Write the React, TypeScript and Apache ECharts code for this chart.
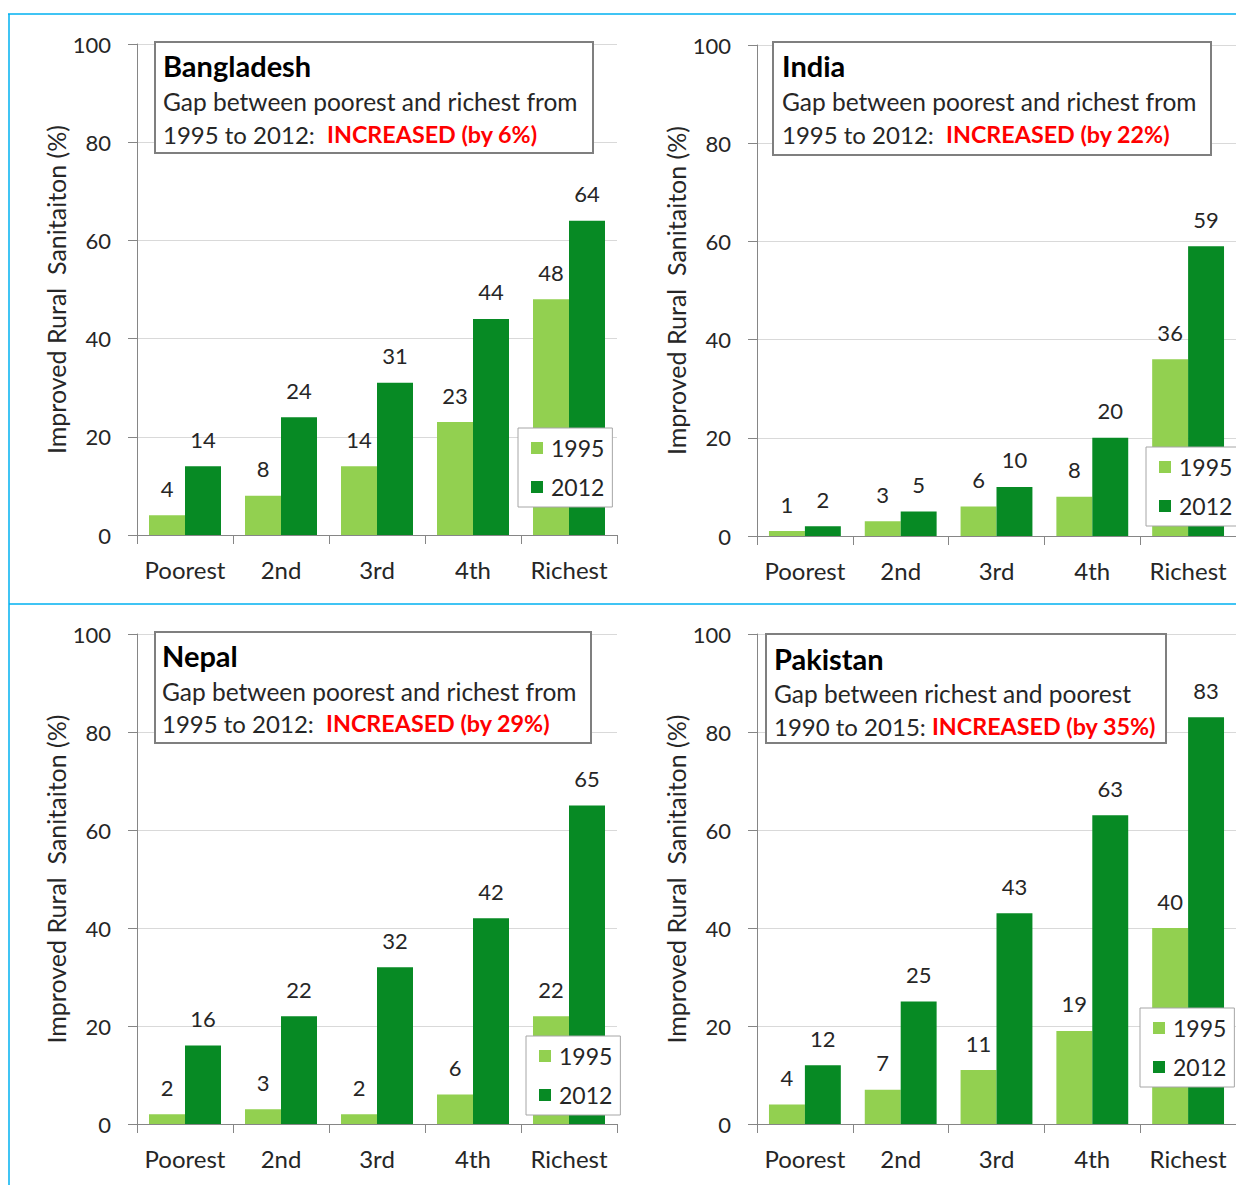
import React, { useEffect, useRef } from "react";
import * as echarts from "echarts";

// Wealth quintiles shared by every country panel
const quintiles = ["Poorest", "2nd", "3rd", "4th", "Richest"];
const yTicks = [0, 20, 40, 60, 80, 100];

const bangladesh1995 = [4, 8, 14, 23, 48];
const bangladesh2012 = [14, 24, 31, 44, 64];
const india1995 = [1, 3, 6, 8, 36];
const india2012 = [2, 5, 10, 20, 59];
const nepal1995 = [2, 3, 2, 6, 22];
const nepal2012 = [16, 22, 32, 42, 65];
const pakistan1995 = [4, 7, 11, 19, 40];
const pakistan2012 = [12, 25, 43, 63, 83];

const seriesNames = ["1995", "2012"];
const countryNames = ["Bangladesh", "India", "Nepal", "Pakistan"];
const gapLines = [
  "Gap between poorest and richest from",
  "Gap between poorest and richest from",
  "Gap between poorest and richest from",
  "Gap between richest and poorest",
];
const periodLines = ["1995 to 2012:  ", "1995 to 2012:  ", "1995 to 2012:  ", "1990 to 2015: "];
const changeLines = [
  "INCREASED (by 6%)",
  "INCREASED (by 22%)",
  "INCREASED (by 29%)",
  "INCREASED (by 35%)",
];
const yAxisTitle = "Improved Rural  Sanitaiton (%)";

const FONT = "Lato, 'Noto Sans', sans-serif";
const TEXT = "#262626";
const AXIS = "#868686";
const LIGHT = "#92d050";
const DARK = "#078a24";
const FRAME = "#00b0f0";

// panel layout: plot area and placement of the annotation / legend boxes
const panels = [
  { left: 137, top: 44, height: 491, box: [155, 42, 438, 111], textX: 163, lines: [65, 101, 134], legend: [518, 428] },
  { left: 757, top: 45, height: 491, box: [773, 42, 438, 113], textX: 782, lines: [65, 101, 134], legend: [1146, 447] },
  { left: 137, top: 634, height: 490, box: [155, 632, 436, 111], textX: 162, lines: [655, 691, 723], legend: [526, 1036] },
  { left: 757, top: 634, height: 490, box: [766, 634, 400, 109], textX: 774, lines: [658, 693, 726], legend: [1140, 1008] },
];

const data1995 = [bangladesh1995, india1995, nepal1995, pakistan1995];
const data2012 = [bangladesh2012, india2012, nepal2012, pakistan2012];

export default function App() {
  const ref = useRef<HTMLDivElement>(null);

  useEffect(() => {
    document.body.style.margin = "0";
    if (!ref.current) return;
    const chart = echarts.init(ref.current, null, { renderer: "svg" });

    const grid = panels.map((p) => ({ left: p.left, top: p.top, width: 480, height: p.height }));

    const xAxis = panels.map((_, i) => ({
      type: "category",
      gridIndex: i,
      data: quintiles,
      axisLine: { lineStyle: { color: AXIS, width: 1 } },
      axisTick: { show: true, length: 9, interval: 0, lineStyle: { color: AXIS } },
      axisLabel: { fontSize: 24, color: TEXT, fontFamily: FONT, margin: 22, interval: 0 },
    }));

    const yAxis = panels.map((_, i) => ({
      type: "value",
      gridIndex: i,
      min: yTicks[0],
      max: yTicks[yTicks.length - 1],
      interval: yTicks[1] - yTicks[0],
      name: yAxisTitle,
      nameLocation: "middle",
      nameRotate: 90,
      nameGap: 64,
      nameTextStyle: { fontSize: 25, color: TEXT, fontFamily: FONT },
      axisLine: { show: true, lineStyle: { color: AXIS, width: 1 } },
      axisTick: { show: true, length: 9, lineStyle: { color: AXIS } },
      axisLabel: { fontSize: 22, color: TEXT, fontFamily: FONT, margin: 26 },
      splitLine: { lineStyle: { color: "#d9d9d9", width: 1 } },
    }));

    const label = {
      show: true,
      position: "top",
      distance: 16,
      fontSize: 22,
      color: TEXT,
      fontFamily: FONT,
    };

    const series: any[] = [];
    panels.forEach((_, i) => {
      series.push({
        type: "bar",
        name: seriesNames[0],
        xAxisIndex: i,
        yAxisIndex: i,
        data: data1995[i],
        itemStyle: { color: LIGHT },
        barGap: "0%",
        barCategoryGap: "25%",
        label,
      });
      series.push({
        type: "bar",
        name: seriesNames[1],
        xAxisIndex: i,
        yAxisIndex: i,
        data: data2012[i],
        itemStyle: { color: DARK },
        barGap: "0%",
        barCategoryGap: "25%",
        label,
      });
    });

    const legend = panels.map((p) => ({
      orient: "vertical",
      left: p.legend[0],
      top: p.legend[1],
      data: seriesNames,
      icon: "rect",
      itemWidth: 12,
      itemHeight: 12,
      itemGap: 15,
      padding: [8, 8, 8, 13],
      backgroundColor: "#ffffff",
      borderColor: "#a6a6a6",
      borderWidth: 1,
      selectedMode: false,
      z: 20,
      textStyle: { fontSize: 23, color: TEXT, fontFamily: FONT, lineHeight: 24, padding: [0, 0, 0, 3] },
    }));

    const graphic: any[] = [];
    // outer frame lines around the panels
    graphic.push({ type: "line", z: 60, shape: { x1: 9, y1: 14, x2: 9, y2: 1185 }, style: { stroke: FRAME, lineWidth: 1.5 } });
    graphic.push({ type: "line", z: 60, shape: { x1: 8, y1: 14, x2: 1236, y2: 14 }, style: { stroke: FRAME, lineWidth: 1.5 } });
    graphic.push({ type: "line", z: 60, shape: { x1: 9, y1: 604, x2: 1236, y2: 604 }, style: { stroke: FRAME, lineWidth: 1.5 } });

    panels.forEach((p, i) => {
      const [bx, by, bw, bh] = p.box;
      graphic.push({
        type: "rect",
        z: 50,
        shape: { x: bx, y: by, width: bw, height: bh },
        style: { fill: "#ffffff", stroke: "#7f7f7f", lineWidth: 2 },
      });
      graphic.push({
        type: "text",
        z: 51,
        x: p.textX,
        y: p.lines[0],
        style: {
          text: countryNames[i],
          fontSize: 29,
          fontWeight: "bold",
          fontFamily: FONT,
          fill: "#000000",
          verticalAlign: "middle",
        },
      });
      graphic.push({
        type: "text",
        z: 51,
        x: p.textX,
        y: p.lines[1],
        style: { text: gapLines[i], fontSize: 24.5, fontFamily: FONT, fill: TEXT, verticalAlign: "middle" },
      });
      graphic.push({
        type: "text",
        z: 51,
        x: p.textX,
        y: p.lines[2],
        style: {
          text: `{n|${periodLines[i]}}{r|${changeLines[i]}}`,
          verticalAlign: "middle",
          rich: {
            n: { fontSize: 24, fontFamily: FONT, fill: TEXT, color: TEXT },
            r: { fontSize: 23.3, fontFamily: FONT, fontWeight: "bold", fill: "#ff0000", color: "#ff0000" },
          },
        },
      });
    });

    chart.setOption({
      animation: false,
      backgroundColor: "#ffffff",
      textStyle: { fontFamily: FONT },
      grid,
      xAxis,
      yAxis,
      legend,
      series,
      graphic,
    });

    return () => chart.dispose();
  }, []);

  return <div ref={ref} style={{ width: 1236, height: 1185 }} />;
}
